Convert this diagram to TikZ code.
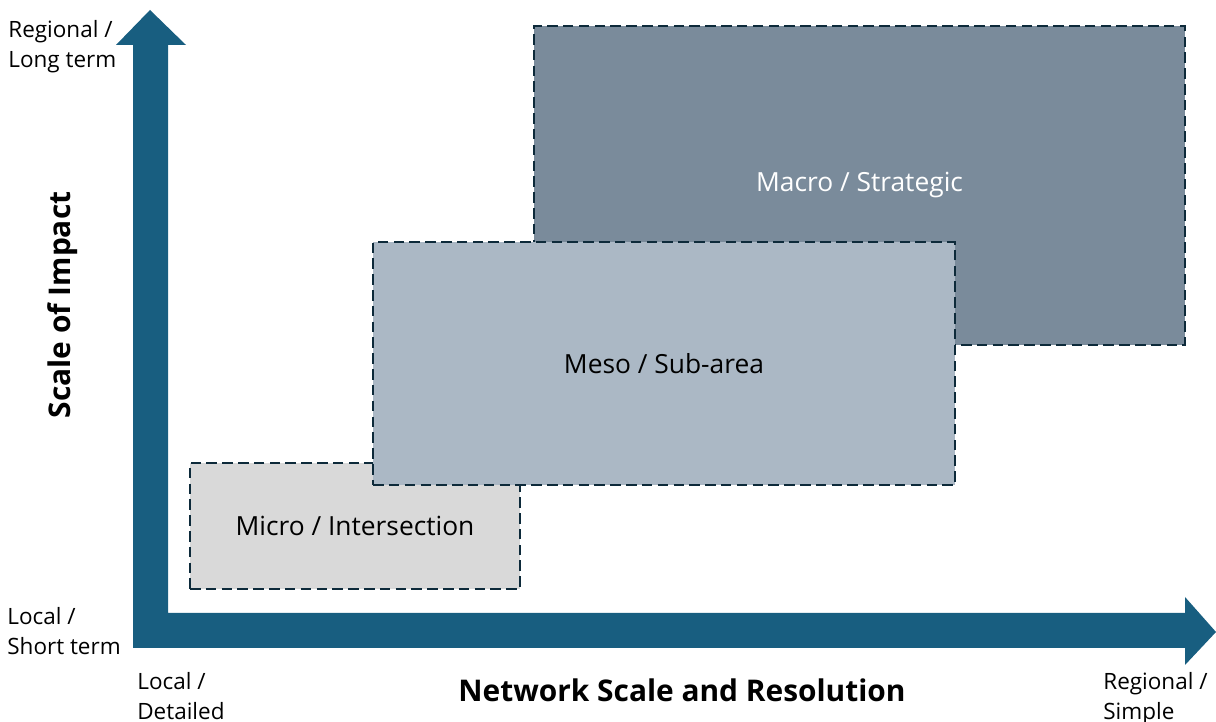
\documentclass[tikz,border=0pt]{standalone}
\usepackage{fontspec}
\setmainfont{Open Sans}
\definecolor{axisblue}{RGB}{24,94,128}
\definecolor{edgeblue}{RGB}{13,42,58}
\definecolor{microgray}{RGB}{217,217,217}
\definecolor{mesogray}{RGB}{171,184,197}
\definecolor{macrogray}{RGB}{122,139,155}
\begin{document}
\begin{tikzpicture}[x=0.02cm, y=0.02cm,
  level/.style={draw=edgeblue, line width=1.5pt, dash pattern=on 6pt off 3pt, inner sep=0pt, font=\fontsize{15}{18}\selectfont},
  endlabel/.style={align=left, inner sep=0pt, font=\fontsize{12.8}{17}\selectfont},
  axistitle/.style={font=\fontsize{17}{20}\selectfont\bfseries}]
\useasboundingbox (0,0) rectangle (1216,722);
% both axes as one filled arrow shape
\fill[axisblue] (133,74) -- (133,677) -- (116,677) -- (150,712) -- (186,677) -- (168,677)
  -- (168,109) -- (1185,109) -- (1185,125) -- (1216,90) -- (1185,57) -- (1185,74) -- cycle;
% levels of modelling
\node[level, fill=macrogray, text=white, minimum width=13.02cm, minimum height=6.38cm] (macro) at (859.5,536.5) {Macro / Strategic};
\node[level, fill=microgray, minimum width=6.6cm, minimum height=2.52cm] (micro) at (355,196) {Micro / Intersection};
\node[level, fill=mesogray, minimum width=11.64cm, minimum height=4.86cm] (meso) at (664,358.5) {Meso / Sub-area};
% axis ends
\node[endlabel, anchor=north west] (ytop) at (8,702) {Regional /\\Long term};
\node[endlabel, anchor=north west] (ybot) at (7,115) {Local /\\Short term};
\node[endlabel, anchor=north west] (xleft) at (137,50) {Local /\\Detailed};
\node[endlabel, anchor=north west] (xright) at (1103,50) {Regional /\\Simple};
% axis titles
\node[axistitle, rotate=90] (ytitle) at (63,417) {Scale of Impact};
\node[axistitle] (xtitle) at (682,32) {Network Scale and Resolution};
\end{tikzpicture}
\end{document}
